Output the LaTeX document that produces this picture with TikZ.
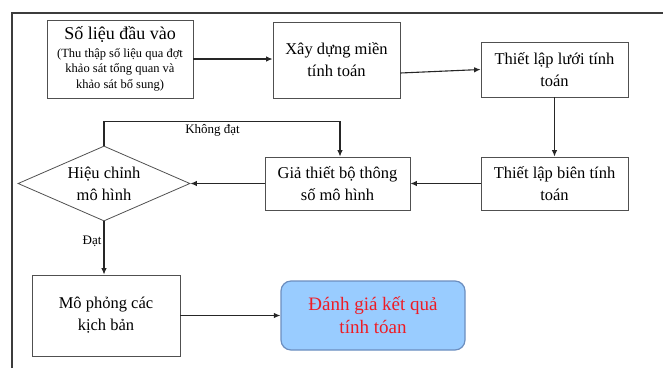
\documentclass[tikz,border=0pt]{standalone}
\usepackage{fontspec}
\setmainfont{Liberation Serif}
\usetikzlibrary{
    arrows.meta,
    shapes.geometric,
    positioning
}
\definecolor{framegray}{HTML}{3C3C3C}
\definecolor{boxgray}{HTML}{505050}
\definecolor{resfill}{HTML}{99CCFF}
\definecolor{resline}{HTML}{6C8EBF}
\definecolor{restext}{HTML}{EE1C25}

\tikzset{
    stepbox/.style={draw=boxgray, line width=0.8pt, align=center, inner sep=2pt,
                    font=\fontsize{16.5}{22}\selectfont},
    arr/.style={draw=black!85, line width=1.1pt, -{Latex[length=6.5pt,width=5.5pt]}},
    lbl/.style={font=\fontsize{13}{15}\selectfont, inner sep=2pt}
}

\begin{document}
\begin{tikzpicture}[x=1pt, y=-1pt]
    \useasboundingbox (0,0) rectangle (663,368);
    % frame
    \draw[framegray, line width=2.5pt] (12,368) -- (12,13) -- (663,13);

    % top row
    \node[stepbox, minimum width=146pt, minimum height=78pt,
          font=\fontsize{12.5}{15.5}\selectfont] (in) at (120,59)
        {{\fontsize{18}{19}\selectfont Số liệu đầu vào}\\[2pt]
         (Thu thập số liệu qua đợt\\
         khảo sát tổng quan và\\
         khảo sát bổ sung)};
    \node[stepbox, minimum width=127pt, minimum height=76pt] (dom) at (336.5,60)
        {Xây dựng miền\\tính toán};
    \node[stepbox, minimum width=147pt, minimum height=55pt] (grid) at (554.5,69.5)
        {Thiết lập lưới tính\\toán};

    % middle row
    \node[stepbox, minimum width=147pt, minimum height=53pt] (bnd) at (554.5,183.5)
        {Thiết lập biên tính\\toán};
    \node[stepbox, minimum width=145pt, minimum height=53pt] (par) at (337.5,183.5)
        {Giả thiết bộ thông\\số mô hình};
    \node[stepbox, diamond, aspect=2.29, inner sep=0pt,
          minimum width=172pt, minimum height=75pt] (cal) at (104,183.5)
        {Hiệu chỉnh\\mô hình};

    % bottom row
    \node[stepbox, minimum width=148pt, minimum height=81pt] (sim) at (106,315.5)
        {Mô phỏng các\\kịch bản};
    \node[stepbox, draw=resline, fill=resfill, line width=1.2pt, rounded corners=10pt,
          text=restext, font=\fontsize{19}{23}\selectfont,
          minimum width=184pt, minimum height=69pt] (res) at (373,315.5)
        {Đánh giá kết quả\\tính tóan};

    % connectors
    \draw[arr] (in.east) -- (in.east -| dom.west);
    \draw[arr] ([yshift=-13pt]dom.east) -- (grid.west);
    \draw[arr] (grid.south) -- (bnd.north);
    \draw[arr] (bnd.west) -- (par.east);
    \draw[arr] (par.west) -- (cal.east);
    \draw[arr] (cal.north) -- ++(0,-24) -| ([xshift=2.5pt]par.north)
        node[lbl, pos=0.23, below] {Không đạt};
    \draw[arr] (cal.south) -- (cal.south |- sim.north)
        node[lbl, pos=0.37, left] {Đạt};
    \draw[arr] (sim.east) -- (sim.east -| res.west);
\end{tikzpicture}
\end{document}
